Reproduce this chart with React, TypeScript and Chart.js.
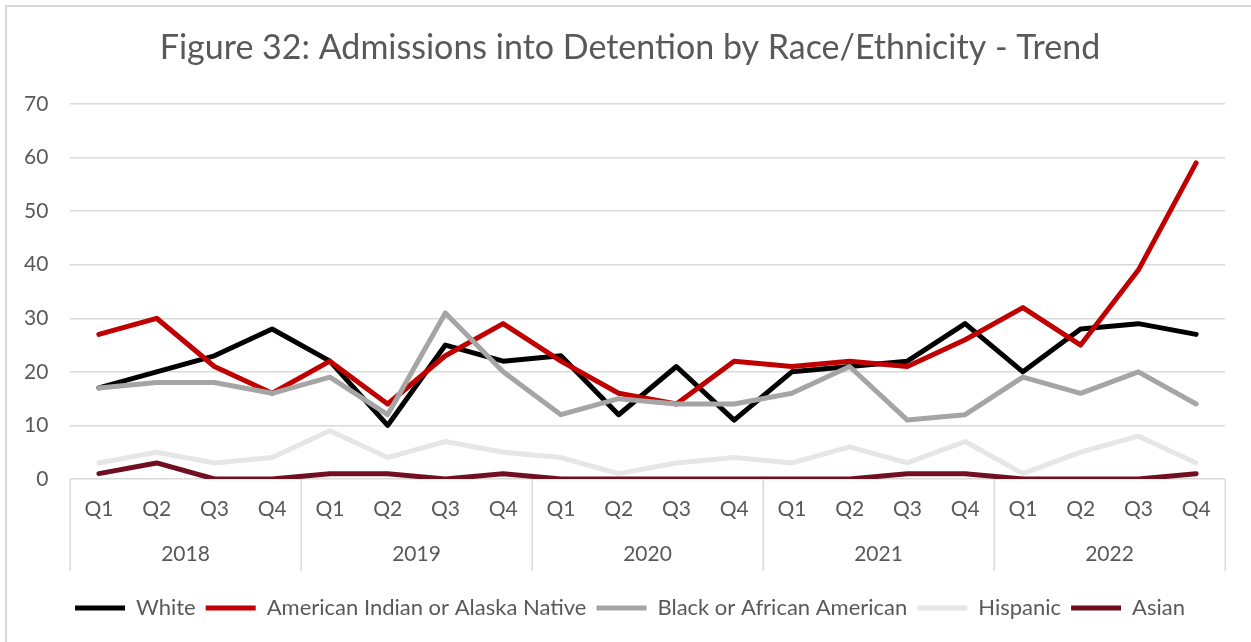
import React, { useEffect, useRef } from "react";
import { Chart, registerables } from "chart.js";

Chart.register(...registerables);

const quarters = [
  "Q1", "Q2", "Q3", "Q4",
  "Q1", "Q2", "Q3", "Q4",
  "Q1", "Q2", "Q3", "Q4",
  "Q1", "Q2", "Q3", "Q4",
  "Q1", "Q2", "Q3", "Q4",
];
const years = ["2018", "2019", "2020", "2021", "2022"];

const white = [17, 20, 23, 28, 22, 10, 25, 22, 23, 12, 21, 11, 20, 21, 22, 29, 20, 28, 29, 27];
const aian = [27, 30, 21, 16, 22, 14, 23, 29, 22, 16, 14, 22, 21, 22, 21, 26, 32, 25, 39, 59];
const black = [17, 18, 18, 16, 19, 12, 31, 20, 12, 15, 14, 14, 16, 21, 11, 12, 19, 16, 20, 14];
const hispanic = [3, 5, 3, 4, 9, 4, 7, 5, 4, 1, 3, 4, 3, 6, 3, 7, 1, 5, 8, 3];
const asian = [1, 3, 0, 0, 1, 1, 0, 1, 0, 0, 0, 0, 0, 0, 1, 1, 0, 0, 0, 1];

const seriesNames = [
  "White",
  "American Indian or Alaska Native",
  "Black or African American",
  "Hispanic",
  "Asian",
];
const seriesColors = ["#000000", "#c00000", "#a5a5a5", "#e7e6e6", "#6f0f1f"];

const yMax = 70;
const yStep = 10;
const titleText = "Figure 32: Admissions into Detention by Race/Ethnicity - Trend";

const TEXT = "#595959";
const GRID = "#d9d9d9";
const FONT = "Lato";

export default function App() {
  const ref = useRef<HTMLCanvasElement | null>(null);

  useEffect(() => {
    document.body.style.margin = "0";
    const canvas = ref.current;
    if (!canvas) return;

    const seriesData = [white, aian, black, hispanic, asian];

    const frame = {
      id: "frame",
      beforeDraw(chart: any) {
        const ctx = chart.ctx;
        ctx.save();
        ctx.fillStyle = "#ffffff";
        ctx.fillRect(0, 0, chart.width, chart.height);
        ctx.strokeStyle = GRID;
        ctx.lineWidth = 2;
        ctx.strokeRect(6, 6, chart.width + 20, chart.height + 20);
        ctx.restore();
      },
      afterDraw(chart: any) {
        const xs = chart.scales.x;
        const x2 = chart.scales.x2;
        const ctx = chart.ctx;
        ctx.save();
        ctx.strokeStyle = GRID;
        ctx.lineWidth = 1.5;
        const groups = years.length;
        const per = quarters.length / groups;
        for (let i = 0; i <= groups; i++) {
          const px = Math.round(xs.getPixelForValue(i * per - 0.5)) + 0.25;
          ctx.beginPath();
          ctx.moveTo(px, chart.chartArea.bottom);
          ctx.lineTo(px, x2.top + 52);
          ctx.stroke();
        }
        ctx.restore();
      },
    };

    const chart = new Chart(canvas, {
      type: "line",
      data: {
        labels: quarters,
        datasets: seriesData.map((d, i) => ({
          label: seriesNames[i],
          data: d,
          borderColor: seriesColors[i],
          backgroundColor: seriesColors[i],
          borderWidth: 5,
          borderCapStyle: "round",
          borderJoinStyle: "round",
          pointRadius: 0,
          tension: 0,
          fill: false,
          order: -i,
        })),
      },
      options: {
        animation: false,
        responsive: false,
        maintainAspectRatio: false,
        layout: { padding: { left: 35, right: 26, top: 0, bottom: 13 } },
        plugins: {
          title: {
            display: true,
            text: titleText,
            color: TEXT,
            font: { family: FONT, size: 34, weight: "normal" },
            padding: { top: 28, bottom: 35.2 },
          },
          legend: {
            display: true,
            position: "bottom",
            labels: {
              color: TEXT,
              font: { family: FONT, size: 22 },
              usePointStyle: true,
              pointStyle: "line",
              pointStyleWidth: 50,
              padding: 10,
              sort: (a: any, b: any) => a.datasetIndex - b.datasetIndex,
            },
          },
          tooltip: { enabled: false },
        },
        scales: {
          x: {
            type: "category",
            position: "bottom",
            offset: true,
            grid: { display: false, drawTicks: false },
            border: { display: false },
            ticks: {
              color: TEXT,
              font: { family: FONT, size: 21 },
              padding: 18,
              maxRotation: 0,
              autoSkip: false,
            },
            afterFit: (s: any) => {
              s.height = 40;
            },
          },
          x2: {
            type: "category",
            position: "bottom",
            labels: years,
            offset: true,
            grid: { display: false, drawTicks: false },
            border: { display: false },
            ticks: {
              color: TEXT,
              font: { family: FONT, size: 21 },
              padding: 23,
              maxRotation: 0,
              autoSkip: false,
            },
            afterFit: (s: any) => {
              s.height = 68;
            },
          },
          y: {
            min: 0,
            max: yMax,
            grid: { color: GRID, lineWidth: 1.5, drawTicks: false },
            border: { display: false },
            ticks: {
              stepSize: yStep,
              color: TEXT,
              font: { family: FONT, size: 21 },
              mirror: true,
              crossAlign: "far",
              padding: -46,
            },
            afterFit: (s: any) => {
              s.width = 35;
            },
          },
        },
      },
      plugins: [frame],
    } as any);

    return () => chart.destroy();
  }, []);

  return (
    <div style={{ width: 1251, height: 642, overflow: "hidden" }}>
      <canvas ref={ref} width={1251} height={642} style={{ display: "block" }} />
    </div>
  );
}
